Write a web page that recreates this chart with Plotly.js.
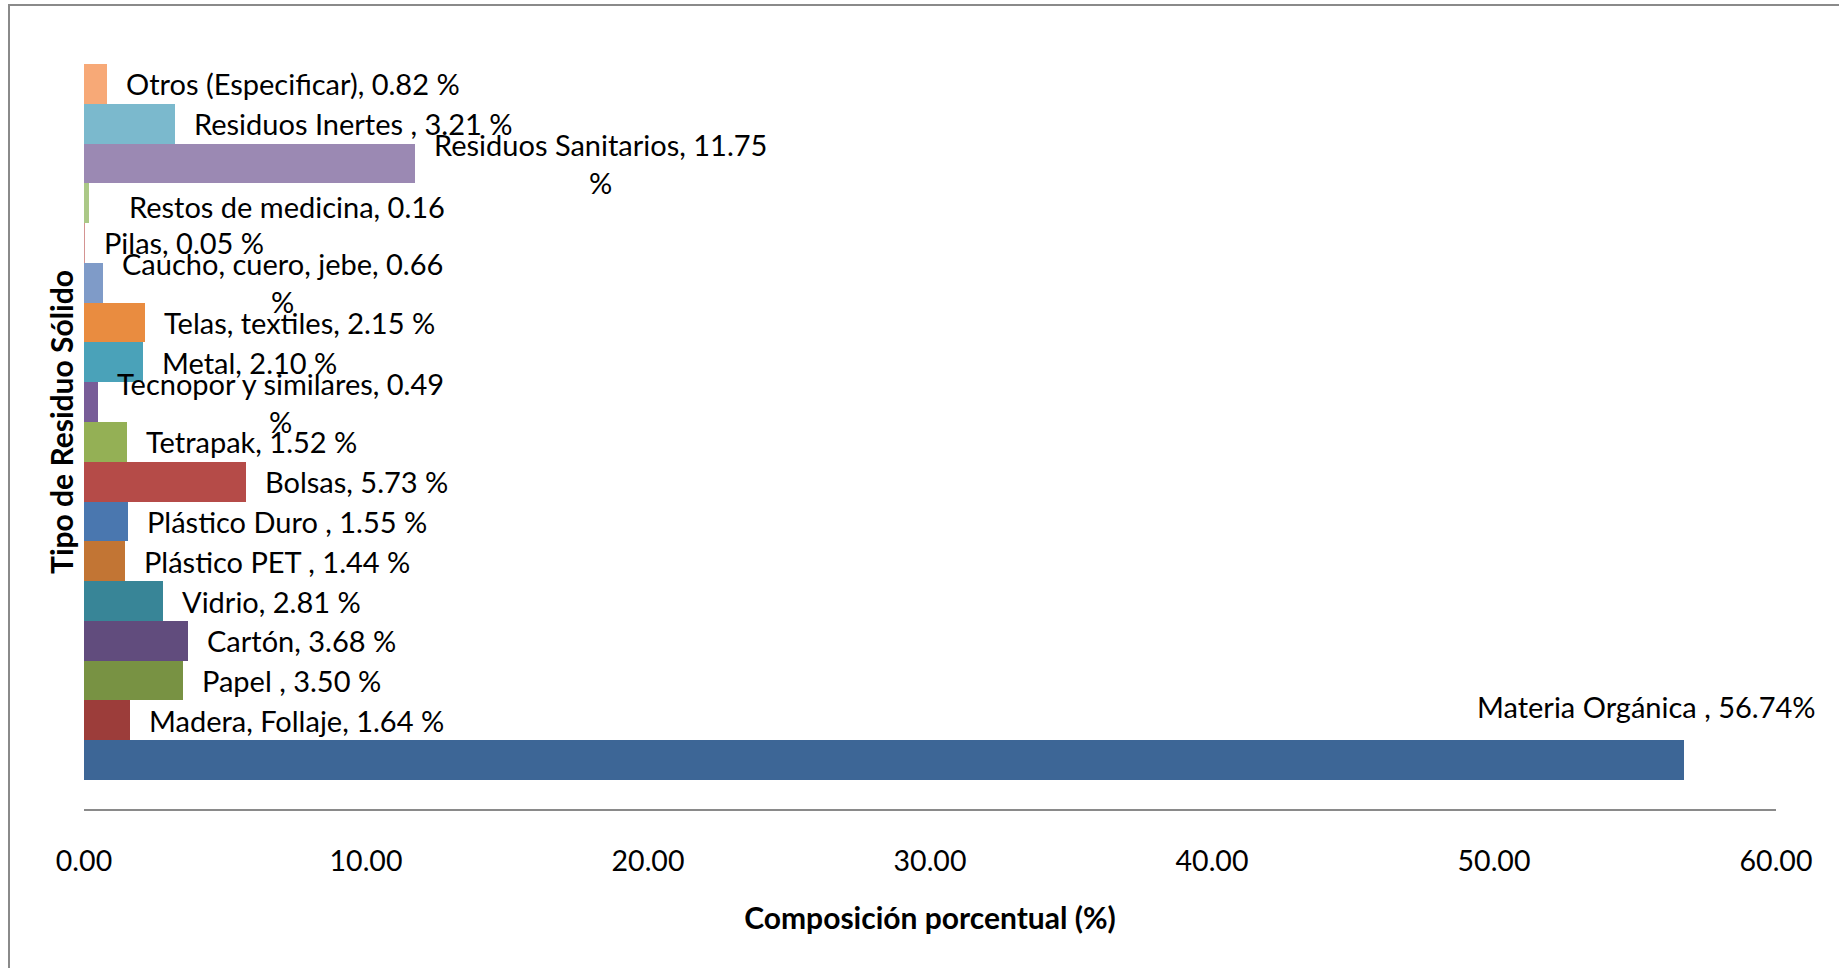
<!DOCTYPE html>
<html>
<head>
<meta charset="utf-8">
<script src="https://cdn.plot.ly/plotly-3.0.1.min.js"></script>
<style>
  html, body { margin: 0; padding: 0; background: #ffffff; overflow: hidden; }
  #wrap { position: relative; width: 1839px; height: 968px; }
  #chart { position: absolute; left: 0; top: 0; width: 1839px; height: 968px; }
  #frame { position: absolute; left: 8px; top: 4px; right: -4px; bottom: -4px;
           border-top: 2px solid #8a8a8a; border-left: 2px solid #8a8a8a; pointer-events: none; }
</style>
</head>
<body>
<div id="wrap">
  <div id="chart"></div>
  <div id="frame"></div>
</div>
<script>
// Categories, bottom to top (Excel series order)
const categories = [
  "Materia Orgánica ", "Madera, Follaje", "Papel ", "Cartón", "Vidrio",
  "Plástico PET ", "Plástico Duro ", "Bolsas", "Tetrapak", "Tecnopor y similares",
  "Metal", "Telas, textiles", "Caucho, cuero, jebe", "Pilas", "Restos de medicina",
  "Residuos Sanitarios", "Residuos Inertes ", "Otros (Especificar)"
];

// Percentage composition (%)
const values = [
  56.74, 1.64, 3.50, 3.68, 2.81,
  1.44, 1.55, 5.73, 1.52, 0.49,
  2.10, 2.15, 0.66, 0.05, 0.16,
  11.75, 3.21, 0.82
];

// Data-label texts as shown on the chart
const labelTexts = [
  "Materia Orgánica , 56.74%",
  "Madera, Follaje, 1.64 %",
  "Papel , 3.50 %",
  "Cartón, 3.68 %",
  "Vidrio, 2.81 %",
  "Plástico PET , 1.44 %",
  "Plástico Duro , 1.55 %",
  "Bolsas, 5.73 %",
  "Tetrapak, 1.52 %",
  "Tecnopor y similares, 0.49<br>%",
  "Metal, 2.10 %",
  "Telas, textiles, 2.15 %",
  "Caucho, cuero, jebe, 0.66<br>%",
  "Pilas, 0.05 %",
  "Restos de medicina, 0.16",
  "Residuos Sanitarios, 11.75<br>%",
  "Residuos Inertes , 3.21 %",
  "Otros (Especificar), 0.82 %"
];

const colors = [
  "#3d6696", "#9c3d3a", "#789243", "#614c7d", "#388597",
  "#c27534", "#4a77af", "#b54b48", "#94b055", "#785d98",
  "#4aa2b9", "#e98c40", "#7f9bc8", "#d49492", "#abc887",
  "#9b89b3", "#7bb9cd", "#f7a977"
];

const xTickValues = [0, 10, 20, 30, 40, 50, 60];

const FONT = "Lato, 'Open Sans', sans-serif";

const trace = {
  type: "bar",
  orientation: "h",
  x: values,
  y: categories,
  marker: { color: colors, line: { width: 0 } },
  hoverinfo: "x+y"
};

// label placement adjustments (pixels)
const special = {
  "Materia Orgánica ": { xanchor: "right", xshift: 134, yshift: 54 },
  "Restos de medicina": { xanchor: "left", xshift: 38, yshift: -3 }
};

const annotations = categories.map((c, i) => {
  const s = special[c] || { xanchor: "left", xshift: 17, yshift: 0 };
  return {
    x: values[i], y: c, xref: "x", yref: "y",
    text: labelTexts[i], showarrow: false,
    xanchor: s.xanchor, yanchor: "middle",
    xshift: s.xshift, yshift: s.yshift,
    align: "center",
    font: { family: FONT, size: 29, color: "#000000" }
  };
});

const gapUnits = 29 / 39.8;

const layout = {
  width: 1839, height: 968,
  margin: { l: 84, r: 63, t: 35, b: 159, pad: 0 },
  paper_bgcolor: "#ffffff",
  plot_bgcolor: "#ffffff",
  showlegend: false,
  bargap: 0,
  font: { family: FONT, size: 29, color: "#000000" },
  xaxis: {
    range: [0, 60],
    tickvals: xTickValues,
    tickformat: ".2f",
    showgrid: false,
    zeroline: false,
    showline: true,
    linecolor: "#8a8a8a",
    linewidth: 2,
    ticks: "",
    ticklabelstandoff: 26,
    tickfont: { family: FONT, size: 28.5, color: "#000000" },
    title: {
      text: "Composición porcentual (%)",
      font: { family: FONT, size: 30, color: "#000000", weight: "bold" },
      standoff: 32
    },
    automargin: false,
    fixedrange: true
  },
  yaxis: {
    type: "category",
    range: [-0.5 - gapUnits, categories.length - 0.5 + gapUnits],
    showticklabels: false,
    showgrid: false,
    zeroline: false,
    showline: false,
    ticks: "",
    title: {
      text: "Tipo de Residuo Sólido",
      font: { family: FONT, size: 30, color: "#000000", weight: "bold" },
      standoff: 0
    },
    automargin: false,
    fixedrange: true
  },
  annotations: annotations
};

Plotly.newPlot("chart", [trace], layout, { displayModeBar: false, staticPlot: true });
</script>
</body>
</html>
